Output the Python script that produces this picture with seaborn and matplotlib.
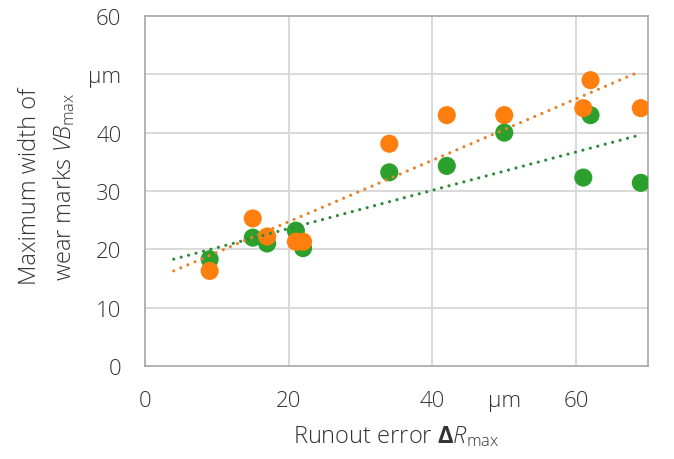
import numpy as np
import pandas as pd
import matplotlib
matplotlib.use("Agg")
import matplotlib.pyplot as plt
import seaborn as sns

# ---- data ----
runout = [9, 15, 17, 21, 22, 34, 42, 50, 61, 62, 69]
vb_green = [18.3, 22.0, 21.0, 23.2, 20.2, 33.2, 34.3, 40.0, 32.3, 43.0, 31.4]
vb_orange = [16.3, 25.3, 22.2, 21.3, 21.3, 38.1, 43.0, 43.0, 44.2, 49.0, 44.2]
x_ticks = [0, 20, 40, 50, 60]
x_ticklabels = ["0", "20", "40", "µm", "60"]
y_ticks = [0, 10, 20, 30, 40, 50, 60]
y_ticklabels = ["0", "10", "20", "30", "40", "µm", "60"]
x_grid = [20, 40, 60]
trend_range = [4, 69]

FONT = "Open Sans"
sns.set_theme(style="white")
plt.rcParams["font.family"] = [FONT, "DejaVu Sans"]
plt.rcParams["font.weight"] = "light"
plt.rcParams["axes.labelweight"] = "light"
plt.rcParams["mathtext.fontset"] = "custom"
plt.rcParams["mathtext.rm"] = f"{FONT}:style=normal:weight=light"
plt.rcParams["mathtext.it"] = f"{FONT}:style=italic:weight=light"
plt.rcParams["mathtext.bf"] = f"{FONT}:style=normal:weight=bold"

GREEN = "#2ca02c"
ORANGE = "#ff7f0e"
GREEN_LINE = "#2e8b3a"
ORANGE_LINE = "#e8822e"
TEXT = "#333333"
FS = 16
LFS = 17

fig = plt.figure(figsize=(6.74, 4.6), dpi=100)
ax = fig.add_axes([0.2151, 0.2022, 0.7463, 0.7609])

df = pd.DataFrame({"x": runout, "green": vb_green, "orange": vb_orange})

for col, c in [("green", GREEN), ("orange", ORANGE)]:
    sns.scatterplot(data=df, x="x", y=col, ax=ax, color=c, s=170,
                    edgecolor="none", linewidth=0, zorder=3)

xs = np.linspace(trend_range[0], trend_range[1], 200)
for col, c in [("green", GREEN_LINE), ("orange", ORANGE_LINE)]:
    k, d = np.polyfit(df["x"], df[col], 1)
    ax.plot(xs, k * xs + d, color=c, lw=2.3, linestyle=(0, (0.01, 2.4)),
            dash_capstyle="round", zorder=4)

ax.set_xlim(0, 70)
ax.set_ylim(0, 60)
ax.set_xticks(x_ticks)
ax.set_xticklabels(x_ticklabels)
ax.set_yticks(y_ticks)
ax.set_yticklabels(y_ticklabels)

ax.grid(False)
for v in y_ticks[1:-1]:
    ax.axhline(v, color="#d9d9d9", lw=1.4, zorder=0)
for v in x_grid:
    ax.axvline(v, color="#d9d9d9", lw=1.4, zorder=0)

for s in ax.spines.values():
    s.set_visible(True)
    s.set_color("#a6a6a6")
    s.set_linewidth(1.2)

ax.tick_params(axis="both", length=0, labelsize=FS, colors=TEXT)
ax.tick_params(axis="x", pad=17)
ax.tick_params(axis="y", pad=17)

ax.set_xlabel(r"Runout error $\mathbf{\Delta}\mathit{R}_{\mathrm{max}}$",
              fontsize=LFS, color=TEXT, labelpad=9)
ax.set_ylabel("Maximum width of\nwear marks $\\mathit{VB}_{\\mathrm{max}}$",
              fontsize=LFS, color=TEXT, linespacing=1.45)
ax.yaxis.set_label_coords(-0.135, 0.515)

fig.savefig("out.png", dpi=100, facecolor="white")
